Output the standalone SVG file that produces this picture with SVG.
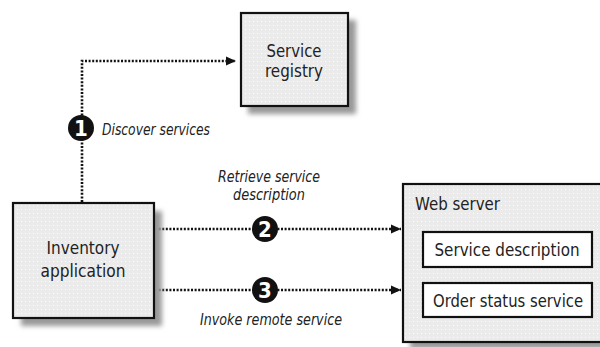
<svg xmlns="http://www.w3.org/2000/svg" width="600" height="347" viewBox="0 0 600 347">
<style>
.box{stroke:#111;stroke-width:2.2;fill:url(#dots)}
.inner{stroke:#111;stroke-width:2.2;fill:#fff}
.shadow{fill:#9a9a9a;filter:url(#blur)}
.t{font-family:"DejaVu Sans Condensed","DejaVu Sans",sans-serif;font-stretch:condensed;font-size:18px;fill:#222}
.c{text-anchor:middle}
.l{font-family:"DejaVu Sans Condensed","DejaVu Sans",sans-serif;font-stretch:condensed;font-size:15px;font-style:italic;fill:#222}
.dot{fill:none;stroke:#111;stroke-width:2.6;stroke-dasharray:2 1.6}
.num{font-family:"DejaVu Sans Condensed","DejaVu Sans",sans-serif;font-size:22px;font-weight:bold;fill:#fff;text-anchor:middle}
</style>
<defs>
<pattern id="dots" width="4" height="4" patternUnits="userSpaceOnUse">
<rect width="4" height="4" fill="#ebebeb"/>
<rect x="1" y="1" width="1" height="1" fill="#fcfcfc"/>
</pattern>
<filter id="blur" x="-20%" y="-20%" width="140%" height="140%"><feGaussianBlur stdDeviation="2.5"/></filter>
<marker id="ah" viewBox="0 0 10 10" refX="10" refY="5" markerWidth="10" markerHeight="10" markerUnits="userSpaceOnUse" orient="auto">
<path d="M0,0.5 L10,5 L0,9.5 Z" fill="#111"/>
</marker>
</defs>
<rect width="600" height="347" fill="#fff"/>
<g id="connectors">
<path class="dot" d="M82,202 V61 H236" marker-end="url(#ah)"/>
<path class="dot" d="M155,229 H401" marker-end="url(#ah)"/>
<path class="dot" d="M155,290 H401" marker-end="url(#ah)"/>
<g id="step1"><circle cx="81" cy="128" r="13" fill="#111"/><text class="num" x="81" y="136">1</text></g>
<g id="step2"><circle cx="265" cy="229" r="13" fill="#111"/><text class="num" x="265" y="237">2</text></g>
<g id="step3"><circle cx="265" cy="290" r="13" fill="#111"/><text class="num" x="265" y="298">3</text></g>
<text class="l" x="102" y="135" textLength="108" lengthAdjust="spacingAndGlyphs">Discover services</text>
<text class="l c" x="269" y="182" textLength="102" lengthAdjust="spacingAndGlyphs">Retrieve service</text>
<text class="l c" x="269" y="200" textLength="72" lengthAdjust="spacingAndGlyphs">description</text>
<text class="l c" x="271" y="325" textLength="142" lengthAdjust="spacingAndGlyphs">Invoke remote service</text>
</g>
<g id="registry">
<rect class="shadow" x="248" y="20" width="108" height="94"/>
<rect class="box" x="241" y="13" width="107" height="93"/>
<text class="t c" x="294" y="57" textLength="55" lengthAdjust="spacingAndGlyphs">Service</text>
<text class="t c" x="294" y="77" textLength="58" lengthAdjust="spacingAndGlyphs">registry</text>
</g>
<g id="inventory">
<rect class="shadow" x="21" y="211" width="141" height="115"/>
<rect class="box" x="13" y="203" width="141" height="115"/>
<text class="t c" x="83" y="254" textLength="73" lengthAdjust="spacingAndGlyphs">Inventory</text>
<text class="t c" x="83" y="277" textLength="85" lengthAdjust="spacingAndGlyphs">application</text>
</g>
<g id="webserver">
<rect class="shadow" x="410" y="191" width="200" height="158"/>
<rect class="box" x="403" y="184" width="205" height="158"/>
<text class="t" x="415" y="210" textLength="85" lengthAdjust="spacingAndGlyphs">Web server</text>
<g id="svcdesc">
<rect class="inner" x="423" y="232" width="169" height="35"/>
<text class="t c" x="507" y="256" textLength="145" lengthAdjust="spacingAndGlyphs">Service description</text>
</g>
<g id="orderstatus">
<rect class="inner" x="423" y="283" width="169" height="34"/>
<text class="t c" x="508" y="307" textLength="150" lengthAdjust="spacingAndGlyphs">Order status service</text>
</g>
</g>
</svg>
